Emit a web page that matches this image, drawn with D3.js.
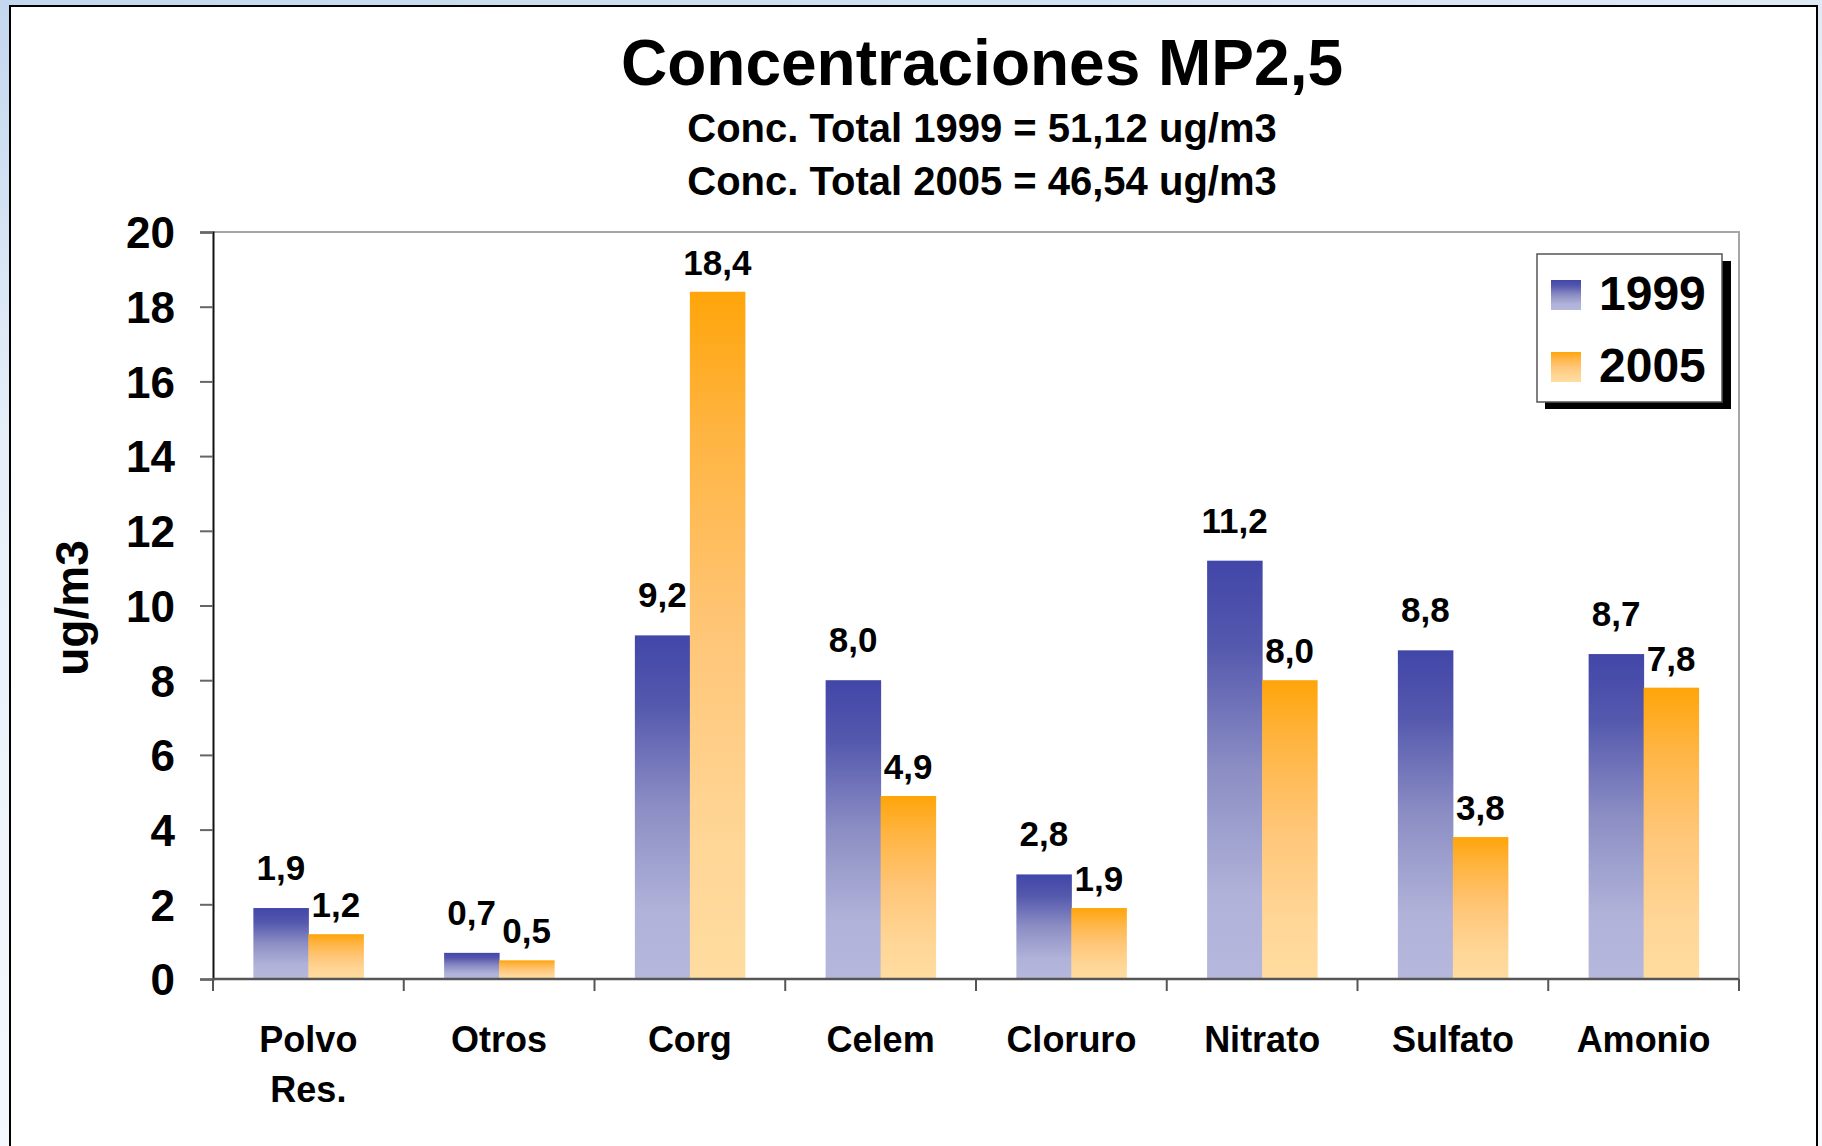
<!DOCTYPE html>
<html>
<head>
<meta charset="utf-8">
<script src="https://cdn.jsdelivr.net/npm/d3@7"></script>
<style>
  body { margin: 0; background: #fff; }
  text { font-family: "Liberation Sans", Arial, sans-serif; font-weight: bold; fill: #000; }
</style>
</head>
<body>
<div id="chart"></div>
<script>
var categories = ["Polvo\nRes.", "Otros", "Corg", "Celem", "Cloruro", "Nitrato", "Sulfato", "Amonio"];
var series = ["1999", "2005"];
var values1999 = [1.9, 0.7, 9.2, 8.0, 2.8, 11.2, 8.8, 8.7];
var values2005 = [1.2, 0.5, 18.4, 4.9, 1.9, 8.0, 3.8, 7.8];
var yTicks = [0, 2, 4, 6, 8, 10, 12, 14, 16, 18, 20];
var titleText = "Concentraciones MP2,5";
var subtitleLines = ["Conc. Total 1999 = 51,12 ug/m3", "Conc. Total 2005 = 46,54 ug/m3"];
var yLabel = "ug/m3";

var width = 1822, height = 1146;
var plot = {left: 213, right: 1739, top: 232, bottom: 979};

var svg = d3.select("#chart").append("svg")
    .attr("width", width)
    .attr("height", height);

var defs = svg.append("defs");

// light blue slide background behind the frame
var bg = defs.append("linearGradient").attr("id", "bg")
    .attr("x1", 0).attr("y1", 0).attr("x2", 0.3).attr("y2", 1);
bg.append("stop").attr("offset", "0%").attr("stop-color", "#c3d7ee");
bg.append("stop").attr("offset", "35%").attr("stop-color", "#e6eff8");
bg.append("stop").attr("offset", "100%").attr("stop-color", "#f7fafd");

var grad = {
  "1999": [["0%", "#4246a8"], ["20%", "#5458ad"], ["50%", "#8c8ec4"], ["80%", "#b0b2d9"], ["100%", "#b5b7dd"]],
  "2005": [["0%", "#ffa50a"], ["20%", "#ffb440"], ["50%", "#ffc678"], ["80%", "#ffd696"], ["100%", "#ffdca0"]]
};
series.forEach(function(s){
  var g = defs.append("linearGradient").attr("id", "g" + s)
      .attr("x1", 0).attr("y1", 0).attr("x2", 0).attr("y2", 1);
  grad[s].forEach(function(st){
    g.append("stop").attr("offset", st[0]).attr("stop-color", st[1]);
  });
});

svg.append("rect").attr("width", width).attr("height", height).attr("fill", "url(#bg)");
svg.append("rect")
    .attr("x", 10).attr("y", 6)
    .attr("width", 1807).attr("height", 1200)
    .attr("fill", "#fff")
    .attr("stroke", "#000")
    .attr("stroke-width", 2);

// titles
svg.append("text")
    .attr("x", 982).attr("y", 85)
    .attr("text-anchor", "middle")
    .style("font-size", "64px")
    .text(titleText);

svg.selectAll(".subtitle")
    .data(subtitleLines)
  .enter().append("text")
    .attr("class", "subtitle")
    .attr("x", 982)
    .attr("y", function(d, i){ return 142 + i * 53; })
    .attr("text-anchor", "middle")
    .style("font-size", "40px")
    .text(function(d){ return d; });

// scales
var x0 = d3.scaleBand()
    .domain(categories)
    .range([plot.left, plot.right])
    .paddingInner(0).paddingOuter(0);

var x1 = d3.scaleBand()
    .domain(series)
    .range([0, x0.bandwidth()])
    .paddingInner(0).paddingOuter(0.734);

var y = d3.scaleLinear()
    .domain([0, 20])
    .range([plot.bottom, plot.top]);

// plot area border (top + right)
svg.append("path")
    .attr("d", "M" + plot.left + "," + plot.top + "H" + plot.right + "V" + plot.bottom)
    .attr("fill", "none")
    .attr("stroke", "#a6a6a6")
    .attr("stroke-width", 2);

// bars
var rows = categories.map(function(c, i){
  return {cat: c, vals: [{s: "1999", v: values1999[i]}, {s: "2005", v: values2005[i]}]};
});

var groups = svg.selectAll(".group")
    .data(rows)
  .enter().append("g")
    .attr("class", "group")
    .attr("transform", function(d){ return "translate(" + x0(d.cat) + ",0)"; });

groups.selectAll("rect")
    .data(function(d){ return d.vals; })
  .enter().append("rect")
    .attr("x", function(d){ return x1(d.s); })
    .attr("y", function(d){ return y(d.v); })
    .attr("width", x1.bandwidth() + 0.5)
    .attr("height", function(d){ return y(0) - y(d.v); })
    .attr("fill", function(d){ return "url(#g" + d.s + ")"; });

var fmt = d3.formatLocale({decimal: ",", thousands: ".", grouping: [3], currency: ["", ""]}).format(".1f");

groups.selectAll(".value")
    .data(function(d){ return d.vals; })
  .enter().append("text")
    .attr("class", "value")
    .attr("x", function(d){ return x1(d.s) + x1.bandwidth() / 2; })
    .attr("y", function(d){ return y(d.v) - (d.s == "1999" ? 28 : 17); })
    .attr("text-anchor", "middle")
    .style("font-size", "35px")
    .text(function(d){ return fmt(d.v); });

// y axis
var yAxis = svg.append("g")
    .attr("transform", "translate(" + plot.left + ",0)")
    .call(d3.axisLeft(y).tickValues(yTicks).tickSize(13).tickPadding(25).tickFormat(d3.format("d")));
yAxis.select(".domain").attr("stroke", "#111").attr("stroke-width", 2);
yAxis.selectAll(".tick line").attr("stroke", "#666").attr("stroke-width", 2);
yAxis.selectAll(".tick text")
    .style("font-size", "44px")
    .style("font-family", "'Liberation Sans', Arial, sans-serif")
    .style("font-weight", "bold")
    .attr("fill", "#000")
    .attr("dy", "0.36em");

svg.append("text")
    .attr("transform", "translate(88,608) rotate(-90)")
    .attr("text-anchor", "middle")
    .style("font-size", "46px")
    .text(yLabel);

// x axis: baseline with ticks at category boundaries
var xAxis = svg.append("g").attr("class", "x-axis");
xAxis.append("line")
    .attr("x1", plot.left).attr("x2", plot.right)
    .attr("y1", y(0)).attr("y2", y(0))
    .attr("stroke", "#555").attr("stroke-width", 2.5);

var bounds = categories.map(function(c){ return x0(c); }).concat([plot.right]);
xAxis.selectAll(".xtick")
    .data(bounds)
  .enter().append("line")
    .attr("class", "xtick")
    .attr("x1", function(d){ return d; }).attr("x2", function(d){ return d; })
    .attr("y1", y(0)).attr("y2", y(0) + 12)
    .attr("stroke", "#555").attr("stroke-width", 2);

var catLabels = xAxis.selectAll(".cat")
    .data(categories)
  .enter().append("text")
    .attr("class", "cat")
    .attr("x", function(d){ return x0(d) + x0.bandwidth() / 2; })
    .attr("y", 1052)
    .attr("text-anchor", "middle")
    .style("font-size", "36px");

catLabels.each(function(d){
  var t = d3.select(this), x = x0(d) + x0.bandwidth() / 2;
  d.split("\n").forEach(function(line, i){
    t.append("tspan").attr("x", x).attr("dy", i == 0 ? 0 : 50).text(line);
  });
});

// legend
var legend = svg.append("g").attr("class", "legend");
legend.append("rect")
    .attr("x", 1545).attr("y", 261)
    .attr("width", 186).attr("height", 148)
    .attr("fill", "#000");
legend.append("rect")
    .attr("x", 1537).attr("y", 254)
    .attr("width", 185).attr("height", 148)
    .attr("fill", "#fff")
    .attr("stroke", "#555")
    .attr("stroke-width", 1.5);

var items = legend.selectAll(".item")
    .data(series)
  .enter().append("g")
    .attr("class", "item")
    .attr("transform", function(d, i){ return "translate(1551," + (280 + i * 72) + ")"; });

items.append("rect")
    .attr("width", 30).attr("height", 30)
    .attr("fill", function(d){ return "url(#g" + d + ")"; });

items.append("text")
    .attr("x", 48).attr("y", 30)
    .style("font-size", "48px")
    .text(function(d){ return d; });
</script>
</body>
</html>
